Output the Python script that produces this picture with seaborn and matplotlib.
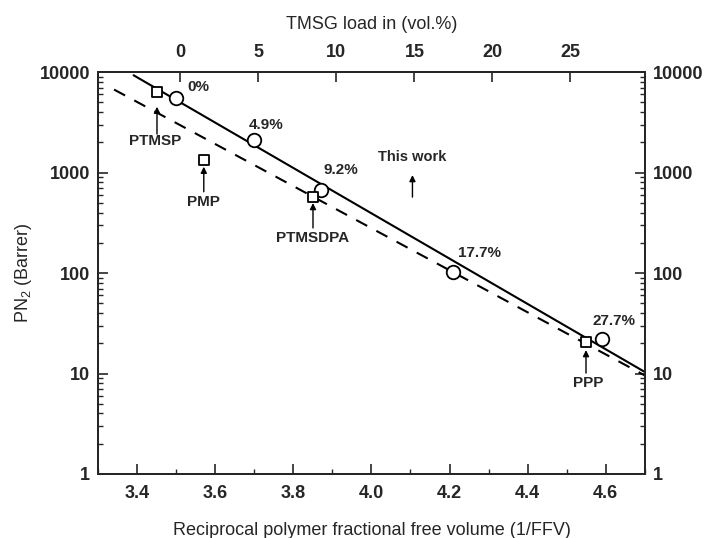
import matplotlib
matplotlib.use("Agg")
import matplotlib.pyplot as plt
import seaborn as sns
import numpy as np
import pandas as pd
from matplotlib.ticker import LogLocator, FixedLocator, NullFormatter

# ---- data ----
tmsg_labels = ["0%", "4.9%", "9.2%", "17.7%", "27.7%"]
tmsg_x = [3.50, 3.70, 3.87, 4.21, 4.59]
tmsg_p = [5550, 2100, 670, 103, 22]

poly_labels = ["PTMSP", "PMP", "PTMSDPA", "PPP"]
poly_x = [3.45, 3.57, 3.85, 4.55]
poly_p = [6370, 1330, 574, 20.7]

fit_solid_x = [3.39, 4.70]
fit_solid_p = [9300, 10.4]
fit_dash_x = [3.34, 4.70]
fit_dash_p = [6700, 9.6]

x_ticks = [3.4, 3.6, 3.8, 4.0, 4.2, 4.4, 4.6]
top_ticks = [0, 5, 10, 15, 20, 25]
y_ticks = [1, 10, 100, 1000, 10000]

sns.set_style("ticks")
plt.rcParams['font.family'] = ['Liberation Sans', 'DejaVu Sans']
plt.rcParams['mathtext.fontset'] = 'custom'
plt.rcParams['mathtext.rm'] = 'Liberation Sans'
plt.rcParams['mathtext.it'] = 'Liberation Sans'

fig = plt.figure(figsize=(7.06, 5.38), dpi=100)
ax = fig.add_axes([0.1395, 0.119, 0.9129 - 0.1395, 0.866 - 0.119])

df_t = pd.DataFrame({"x": tmsg_x, "p": tmsg_p, "lab": tmsg_labels})
df_p = pd.DataFrame({"x": poly_x, "p": poly_p, "lab": poly_labels})
df_s = pd.DataFrame({"x": fit_solid_x, "p": fit_solid_p})
df_d = pd.DataFrame({"x": fit_dash_x, "p": fit_dash_p})

sns.lineplot(data=df_s, x="x", y="p", ax=ax, color="black", lw=1.5, zorder=2)
sns.lineplot(data=df_d, x="x", y="p", ax=ax, color="black", lw=1.5,
             linestyle=(0, (6, 5)), zorder=2)
sns.scatterplot(data=df_t, x="x", y="p", ax=ax, marker="o", s=95,
                facecolor="white", edgecolor="black", linewidth=1.3, zorder=3)
sns.scatterplot(data=df_p, x="x", y="p", ax=ax, marker="s", s=52,
                facecolor="white", edgecolor="black", linewidth=1.3, zorder=3)

ax.set_yscale("log")
ax.set_xlim(3.3, 4.7)
ax.set_ylim(1, 10000)

for sp in ax.spines.values():
    sp.set_linewidth(1.4)
    sp.set_visible(True)
ax.xaxis.set_major_locator(FixedLocator(x_ticks))
ax.xaxis.set_minor_locator(FixedLocator([3.3, 3.5, 3.7, 3.9, 4.1, 4.3, 4.5, 4.7]))
ax.set_xticklabels([f"{v:.1f}" for v in x_ticks])
ax.yaxis.set_major_locator(FixedLocator(y_ticks))
ax.yaxis.set_minor_locator(LogLocator(base=10, subs=np.arange(2, 10)))
ax.yaxis.set_minor_formatter(NullFormatter())
ax.set_yticklabels([str(v) for v in y_ticks])
ax.tick_params(axis="both", which="major", direction="in", length=7, width=1.2,
               labelsize=13, pad=6)
ax.tick_params(axis="x", which="major", pad=8)
ax.tick_params(axis="both", which="minor", direction="in", length=3.5, width=1.0)
ax.tick_params(axis="y", which="both", right=True, labelright=True)
ax.tick_params(axis="x", which="both", top=False)
for lbl in ax.get_xticklabels() + ax.get_yticklabels():
    lbl.set_fontweight("bold")

ax.set_xlabel("Reciprocal polymer fractional free volume (1/FFV)", fontsize=13, labelpad=14)
ax.set_ylabel("PN$_2$ (Barrer)", fontsize=13, labelpad=4)

# top axis
ax2 = ax.twiny()
ax2.set_xlim((3.3 - 3.51) / 0.04, (4.7 - 3.51) / 0.04)
ax2.xaxis.set_major_locator(FixedLocator(top_ticks))
ax2.set_xticklabels([str(v) for v in top_ticks])
ax2.tick_params(axis="x", which="major", direction="in", length=7, width=1.2,
                labelsize=13, pad=8)
ax2.tick_params(axis="x", which="minor", top=False, bottom=False)
for lbl in ax2.get_xticklabels():
    lbl.set_fontweight("bold")
ax2.set_xlabel("TMSG load in (vol.%)", fontsize=13, labelpad=11)
for sp in ax2.spines.values():
    sp.set_linewidth(1.4)

# percent labels
pct_pos = [(3.555, 7140), (3.731, 2970), (3.922, 1059), (4.276, 159), (4.621, 33.3)]
for lab, (px, py) in zip(tmsg_labels, pct_pos):
    ax.text(px, py, lab, fontsize=11, fontweight="bold", ha="center", va="center")

# polymer labels with arrows
poly_text_pos = [(3.445, 2070), (3.57, 512), (3.85, 223), (4.555, 7.98)]
poly_arrow_start = [(3.45, 2415), (3.57, 644), (3.85, 281), (4.55, 10.1)]
poly_arrow_end = [(3.45, 4520), (3.57, 1143), (3.85, 497), (4.55, 17.1)]
for lab, tp, a0, a1 in zip(poly_labels, poly_text_pos, poly_arrow_start, poly_arrow_end):
    ax.text(tp[0], tp[1], lab, fontsize=11, fontweight="bold", ha="center", va="center")
    ax.annotate("", xy=a1, xytext=a0,
                arrowprops=dict(arrowstyle="-|>", color="black", lw=1.0,
                                mutation_scale=9, shrinkA=0, shrinkB=0))

# "This work"
ax.text(4.105, 1425, "This work", fontsize=10.5, fontweight="bold", ha="center", va="center")
ax.annotate("", xy=(4.105, 944), xytext=(4.105, 570),
            arrowprops=dict(arrowstyle="-|>", color="black", lw=1.0,
                            mutation_scale=9, shrinkA=0, shrinkB=0))

fig.savefig("out.png", dpi=100)
